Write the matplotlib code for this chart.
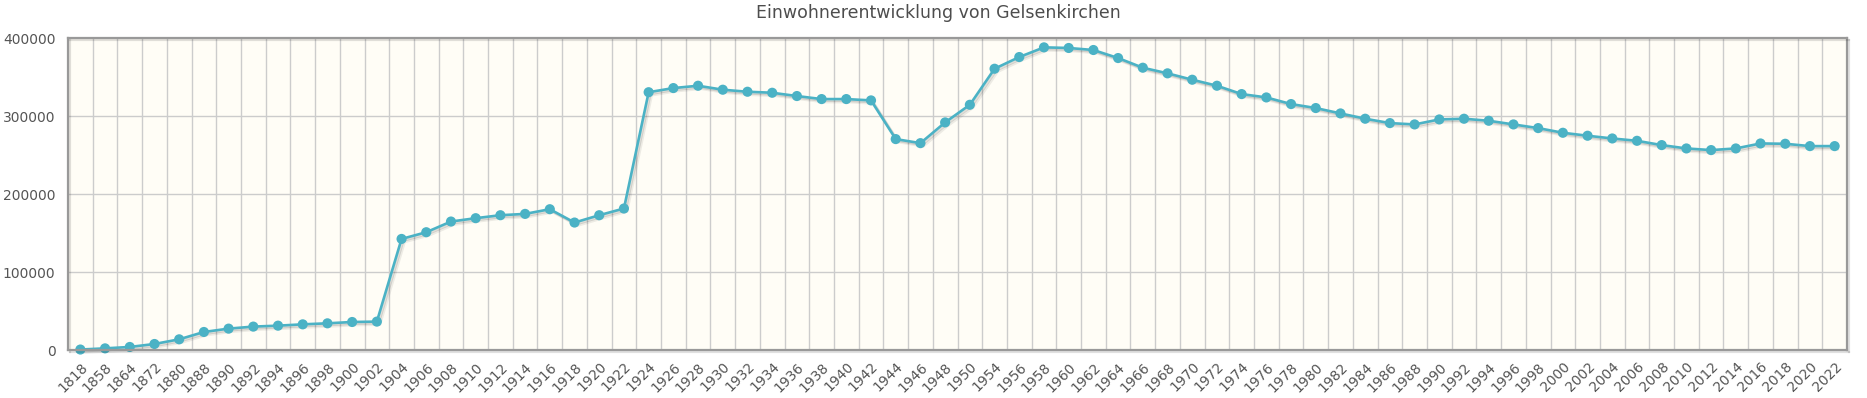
import matplotlib
matplotlib.use("Agg")
from matplotlib import pyplot as plt
import matplotlib.patheffects as pe

years = ["1818", "1858", "1864", "1872", "1880", "1888", "1890", "1892", "1894", "1896",
         "1898", "1900", "1902", "1904", "1906", "1908", "1910", "1912", "1914", "1916",
         "1918", "1920", "1922", "1924", "1926", "1928", "1930", "1932", "1934", "1936",
         "1938", "1940", "1942", "1944", "1946", "1948", "1950", "1954", "1956", "1958",
         "1960", "1962", "1964", "1966", "1968", "1970", "1972", "1974", "1976", "1978",
         "1980", "1982", "1984", "1986", "1988", "1990", "1992", "1994", "1996", "1998",
         "2000", "2002", "2004", "2006", "2008", "2010", "2012", "2014", "2016", "2018",
         "2020", "2022"]

einwohner = [600, 2100, 3900, 7700, 13700, 23100, 27400, 30000, 31200, 32900,
             34200, 35900, 36400, 142400, 151000, 164700, 169000, 172800, 174500, 180500,
             163400, 172800, 181400, 330500, 335800, 338800, 333700, 331100, 329800, 325600,
             321700, 321700, 320000, 270400, 265200, 291800, 314400, 360600, 375600, 388000,
             387200, 384600, 374300, 361900, 354700, 346500, 338800, 328100, 323800, 315300,
             310200, 303300, 296500, 290900, 289200, 295600, 296500, 293900, 289200, 284500,
             278500, 274700, 271200, 268200, 262700, 258400, 256300, 258400, 264800, 264400,
             261400, 261400]

y_ticks = [0, 100000, 200000, 300000, 400000]

title = "Einwohnerentwicklung von Gelsenkirchen"

line_color = "#4bb2c5"
text_color = "#555555"
font = ["Liberation Sans Narrow", "DejaVu Sans"]

fig = plt.figure(figsize=(18.67, 3.98), dpi=100)
ax = fig.add_axes([68 / 1867, 48 / 398, 1779 / 1867, 312 / 398])
ax.set_facecolor("#fffdf6")

x = list(range(len(years)))
shadow = [pe.SimpleLineShadow(offset=(1.2, -1.2), shadow_color="k", alpha=0.12),
          pe.SimpleLineShadow(offset=(2.2, -2.2), shadow_color="k", alpha=0.07),
          pe.Normal()]
ax.plot(x, einwohner, color=line_color, lw=1.9, marker="o", ms=7.3,
        markeredgewidth=0, path_effects=shadow, zorder=3, clip_on=False)

ax.set_xlim(-0.5, len(years) - 0.5)
ax.set_ylim(0, 400000)

# vertical grid at category boundaries
for b in range(1, len(years)):
    ax.axvline(b - 0.5, color="#cccccc", lw=1.0, zorder=1)
for t in y_ticks[1:-1]:
    ax.axhline(t, color="#cccccc", lw=1.0, zorder=1)

ax.set_xticks(x)
ax.set_xticklabels(years, rotation=45, ha="right", va="top", rotation_mode="anchor",
                   fontsize=10, color=text_color, family=["DejaVu Sans"])
ax.set_yticks(y_ticks)
ax.set_yticklabels([str(v) for v in y_ticks], fontsize=10, color=text_color, family=font)
ax.tick_params(axis="both", length=0)
ax.tick_params(axis="y", pad=9)
ax.tick_params(axis="x", pad=7)

for s in ax.spines.values():
    s.set_color("#999999")
    s.set_linewidth(1.6)
    s.set_zorder(4)
    s.set_path_effects([pe.SimpleLineShadow(offset=(1.5, -1.5), alpha=0.12), pe.Normal()])

fig.text(938 / 1867, 1 - 13 / 398, title, ha="center", va="center",
         fontsize=12.5, color="#4d4d4d", family=["DejaVu Sans"])

fig.savefig("out.png", dpi=100, facecolor="white")
